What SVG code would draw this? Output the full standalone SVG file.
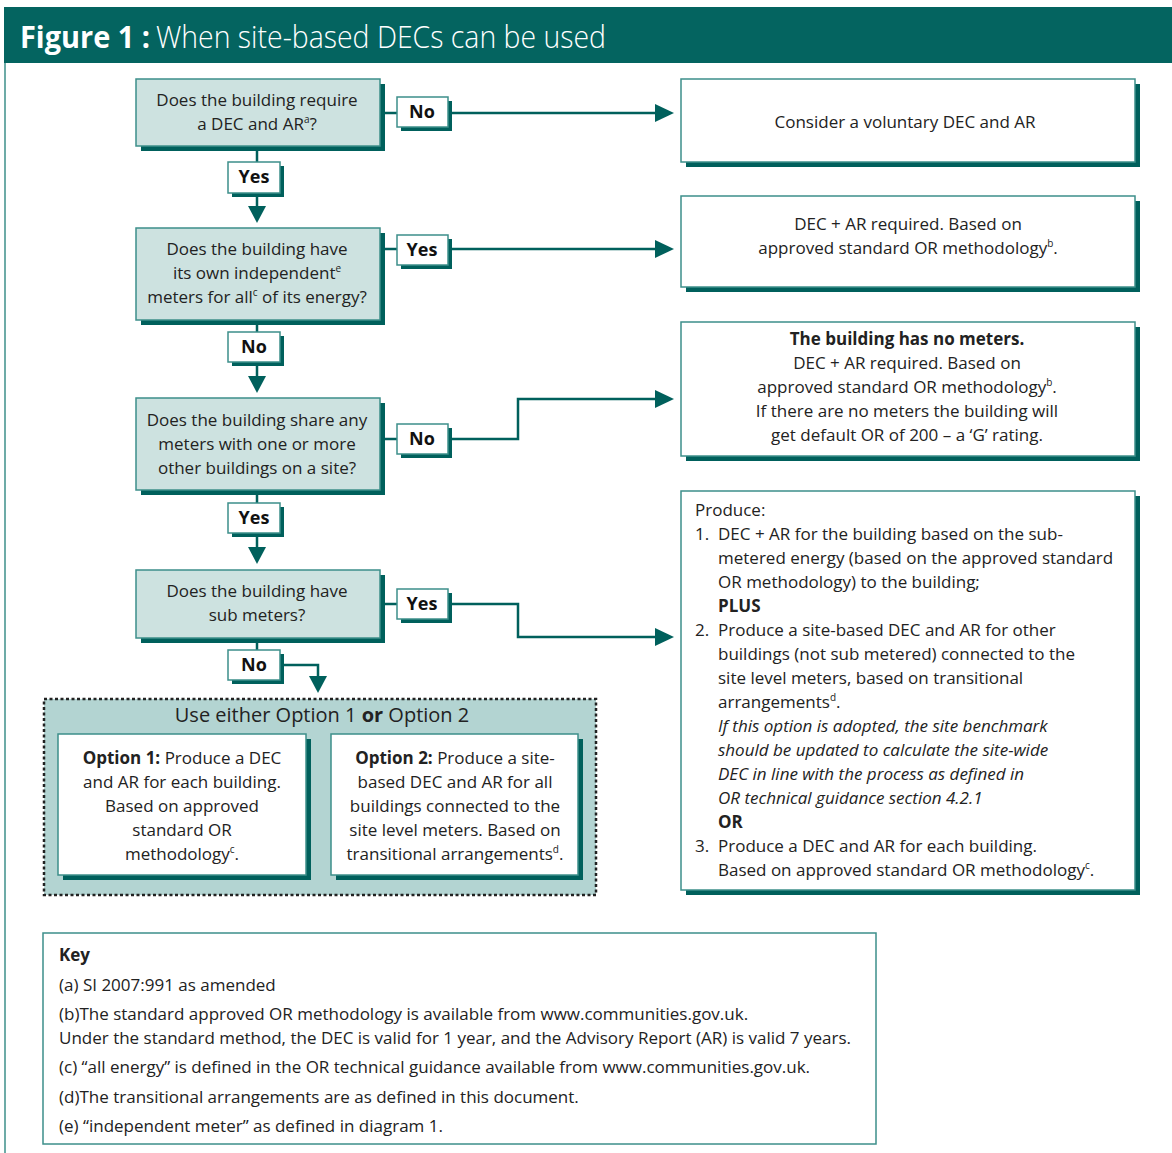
<svg xmlns="http://www.w3.org/2000/svg" width="1172" height="1153" viewBox="0 0 1172 1153">
<defs>
<style>
.t{font-family:"Open Sans","Noto Sans","Liberation Sans",sans-serif;font-size:17px;fill:#222;}
.c{text-anchor:middle;}
.b{font-weight:bold;}
.i{font-style:italic;}
.lbl{font-family:"Open Sans","Noto Sans","Liberation Sans",sans-serif;font-size:18px;font-weight:bold;fill:#111;text-anchor:middle;}
.sh{fill:#00605c;}
.dec{fill:#cde2e0;stroke:#3d8f8a;stroke-width:1.5;}
.wb{fill:#fff;stroke:#3d8f8a;stroke-width:1.5;}
.ln{fill:none;stroke:#00605c;stroke-width:2.5;}
.ah{fill:#00605c;}
.ttl{font-family:"Open Sans","Noto Sans","Liberation Sans",sans-serif;font-size:31px;fill:#fff;}
</style>
</defs>
<rect width="1172" height="1153" fill="#fff"/>
<!-- header -->
<g id="header">
<rect x="4" y="7" width="1168" height="56" fill="#046460"/>
<line x1="5" y1="63" x2="5" y2="1153" stroke="#3d8f8a" stroke-width="1.5"/>
<text class="ttl" x="20" y="48" font-weight="bold" textLength="130" lengthAdjust="spacingAndGlyphs">Figure 1 :</text>
<text class="ttl" x="156" y="48" font-weight="300" textLength="450" lengthAdjust="spacingAndGlyphs">When site-based DECs can be used</text>
</g>
<!-- connectors -->
<g id="connectors">
<path class="ln" d="M380 113 H397 M448 113 H657"/><polygon class="ah" points="674,113 655,104 655,122"/>
<path class="ln" d="M257 146 V162 M257 193 V207"/><polygon class="ah" points="257,223 248,206 266,206"/>
<path class="ln" d="M380 249 H397 M448 249 H657"/><polygon class="ah" points="674,249 655,240 655,258"/>
<path class="ln" d="M257 320 V332 M257 362 V377"/><polygon class="ah" points="257,393 248,376 266,376"/>
<path class="ln" d="M380 439 H397 M448 439 H518 V399 H657"/><polygon class="ah" points="674,399 655,390 655,408"/>
<path class="ln" d="M257 490 V503 M257 533 V547"/><polygon class="ah" points="257,564 248,547 266,547"/>
<path class="ln" d="M380 604 H397 M448 604 H518 V637 H657"/><polygon class="ah" points="674,637 655,628 655,646"/>
<path class="ln" d="M257 638 V650 M280 665 H318 V677"/><polygon class="ah" points="318,693 309,676 327,676"/>
</g>
<!-- decision nodes -->
<g id="q1"><rect class="sh" x="141" y="84" width="244" height="67"/><rect class="dec" x="136" y="79" width="244" height="67"/>
<text class="t c" x="257" y="106">Does the building require</text>
<text class="t c" x="257" y="130">a DEC and AR<tspan font-size="10" dy="-7">a</tspan><tspan dy="7">?</tspan></text></g>
<g id="q2"><rect class="sh" x="141" y="233" width="244" height="92"/><rect class="dec" x="136" y="228" width="244" height="92"/>
<text class="t c" x="257" y="255">Does the building have</text>
<text class="t c" x="257" y="279">its own independent<tspan font-size="10" dy="-7">e</tspan></text>
<text class="t c" x="257" y="303">meters for all<tspan font-size="10" dy="-7">c</tspan><tspan dy="7"> of its energy?</tspan></text></g>
<g id="q3"><rect class="sh" x="141" y="403" width="244" height="92"/><rect class="dec" x="136" y="398" width="244" height="92"/>
<text class="t c" x="257" y="426">Does the building share any</text>
<text class="t c" x="257" y="450">meters with one or more</text>
<text class="t c" x="257" y="474">other buildings on a site?</text></g>
<g id="q4"><rect class="sh" x="141" y="575" width="244" height="68"/><rect class="dec" x="136" y="570" width="244" height="68"/>
<text class="t c" x="257" y="597">Does the building have</text>
<text class="t c" x="257" y="621">sub meters?</text></g>
<!-- labels -->
<g id="l1"><rect class="sh" x="401" y="101" width="51" height="30"/><rect class="wb" x="397" y="97" width="51" height="30"/><text class="lbl" x="422" y="118">No</text></g>
<g id="l2"><rect class="sh" x="232" y="166" width="52" height="31"/><rect class="wb" x="228" y="162" width="52" height="31"/><text class="lbl" x="254" y="183">Yes</text></g>
<g id="l3"><rect class="sh" x="401" y="239" width="51" height="30"/><rect class="wb" x="397" y="235" width="51" height="30"/><text class="lbl" x="422" y="256">Yes</text></g>
<g id="l4"><rect class="sh" x="232" y="336" width="52" height="30"/><rect class="wb" x="228" y="332" width="52" height="30"/><text class="lbl" x="254" y="353">No</text></g>
<g id="l5"><rect class="sh" x="401" y="428" width="51" height="30"/><rect class="wb" x="397" y="424" width="51" height="30"/><text class="lbl" x="422" y="445">No</text></g>
<g id="l6"><rect class="sh" x="232" y="507" width="52" height="30"/><rect class="wb" x="228" y="503" width="52" height="30"/><text class="lbl" x="254" y="524">Yes</text></g>
<g id="l7"><rect class="sh" x="401" y="593" width="51" height="30"/><rect class="wb" x="397" y="589" width="51" height="30"/><text class="lbl" x="422" y="610">Yes</text></g>
<g id="l8"><rect class="sh" x="232" y="654" width="52" height="30"/><rect class="wb" x="228" y="650" width="52" height="30"/><text class="lbl" x="254" y="671">No</text></g>
<!-- result nodes -->
<g id="r1"><rect class="sh" x="686" y="84" width="454" height="83"/><rect class="wb" x="681" y="79" width="454" height="83"/>
<text class="t c" x="905" y="128">Consider a voluntary DEC and AR</text></g>
<g id="r2"><rect class="sh" x="686" y="201" width="454" height="91"/><rect class="wb" x="681" y="196" width="454" height="91"/>
<text class="t c" x="908" y="230">DEC + AR required. Based on</text>
<text class="t c" x="908" y="254">approved standard OR methodology<tspan font-size="10" dy="-7">b</tspan><tspan dy="7">.</tspan></text></g>
<g id="r3"><rect class="sh" x="686" y="327" width="454" height="134"/><rect class="wb" x="681" y="322" width="454" height="134"/>
<text class="t c b" x="907" y="345">The building has no meters.</text>
<text class="t c" x="907" y="369">DEC + AR required. Based on</text>
<text class="t c" x="907" y="393">approved standard OR methodology<tspan font-size="10" dy="-7">b</tspan><tspan dy="7">.</tspan></text>
<text class="t c" x="907" y="417">If there are no meters the building will</text>
<text class="t c" x="907" y="441">get default OR of 200 – a ‘G’ rating.</text></g>
<g id="r4"><rect class="sh" x="686" y="496" width="454" height="399"/><rect class="wb" x="681" y="491" width="454" height="399"/>
<text class="t" x="695" y="516">Produce:</text>
<text class="t" x="695" y="540">1.</text>
<text class="t" x="718" y="540">DEC + AR for the building based on the sub-</text>
<text class="t" x="718" y="564">metered energy (based on the approved standard</text>
<text class="t" x="718" y="588">OR methodology) to the building;</text>
<text class="t b" x="718" y="612">PLUS</text>
<text class="t" x="695" y="636">2.</text>
<text class="t" x="718" y="636">Produce a site-based DEC and AR for other</text>
<text class="t" x="718" y="660">buildings (not sub metered) connected to the</text>
<text class="t" x="718" y="684">site level meters, based on transitional</text>
<text class="t" x="718" y="708">arrangements<tspan font-size="10" dy="-7">d</tspan><tspan dy="7">.</tspan></text>
<text class="t i" x="718" y="732">If this option is adopted, the site benchmark</text>
<text class="t i" x="718" y="756">should be updated to calculate the site-wide</text>
<text class="t i" x="718" y="780">DEC in line with the process as defined in</text>
<text class="t i" x="718" y="804">OR technical guidance section 4.2.1</text>
<text class="t b" x="718" y="828">OR</text>
<text class="t" x="695" y="852">3.</text>
<text class="t" x="718" y="852">Produce a DEC and AR for each building.</text>
<text class="t" x="718" y="876">Based on approved standard OR methodology<tspan font-size="10" dy="-7">c</tspan><tspan dy="7">.</tspan></text></g>
<!-- options container -->
<g id="options">
<rect x="44" y="699" width="552" height="196" fill="#b3d4d2" stroke="#222" stroke-width="2.5" stroke-dasharray="3 2.5"/>
<text class="t c" x="322" y="722" style="font-size:20px">Use either Option 1 <tspan font-weight="bold">or</tspan> Option 2</text>
</g>
<g id="opt1"><rect class="sh" x="63" y="739" width="248" height="141"/><rect class="wb" x="58" y="734" width="248" height="141"/>
<text class="t c" x="182" y="764"><tspan font-weight="bold">Option 1:</tspan> Produce a DEC</text>
<text class="t c" x="182" y="788">and AR for each building.</text>
<text class="t c" x="182" y="812">Based on approved</text>
<text class="t c" x="182" y="836">standard OR</text>
<text class="t c" x="182" y="860">methodology<tspan font-size="10" dy="-7">c</tspan><tspan dy="7">.</tspan></text></g>
<g id="opt2"><rect class="sh" x="336" y="739" width="247" height="141"/><rect class="wb" x="331" y="734" width="247" height="141"/>
<text class="t c" x="455" y="764"><tspan font-weight="bold">Option 2:</tspan> Produce a site-</text>
<text class="t c" x="455" y="788">based DEC and AR for all</text>
<text class="t c" x="455" y="812">buildings connected to the</text>
<text class="t c" x="455" y="836">site level meters. Based on</text>
<text class="t c" x="455" y="860">transitional arrangements<tspan font-size="10" dy="-7">d</tspan><tspan dy="7">.</tspan></text></g>
<!-- key -->
<g id="key">
<rect x="43" y="933" width="833" height="211" fill="#fff" stroke="#3d8f8a" stroke-width="1.5"/>
<text class="t b" x="59" y="961">Key</text>
<text class="t" x="59" y="991">(a) SI 2007:991 as amended</text>
<text class="t" x="59" y="1020">(b)The standard approved OR methodology is available from www.communities.gov.uk.</text>
<text class="t" x="59" y="1044">Under the standard method, the DEC is valid for 1 year, and the Advisory Report (AR) is valid 7 years.</text>
<text class="t" x="59" y="1073">(c) “all energy” is defined in the OR technical guidance available from www.communities.gov.uk.</text>
<text class="t" x="59" y="1103">(d)The transitional arrangements are as defined in this document.</text>
<text class="t" x="59" y="1132">(e) “independent meter” as defined in diagram 1.</text>
</g>
</svg>
